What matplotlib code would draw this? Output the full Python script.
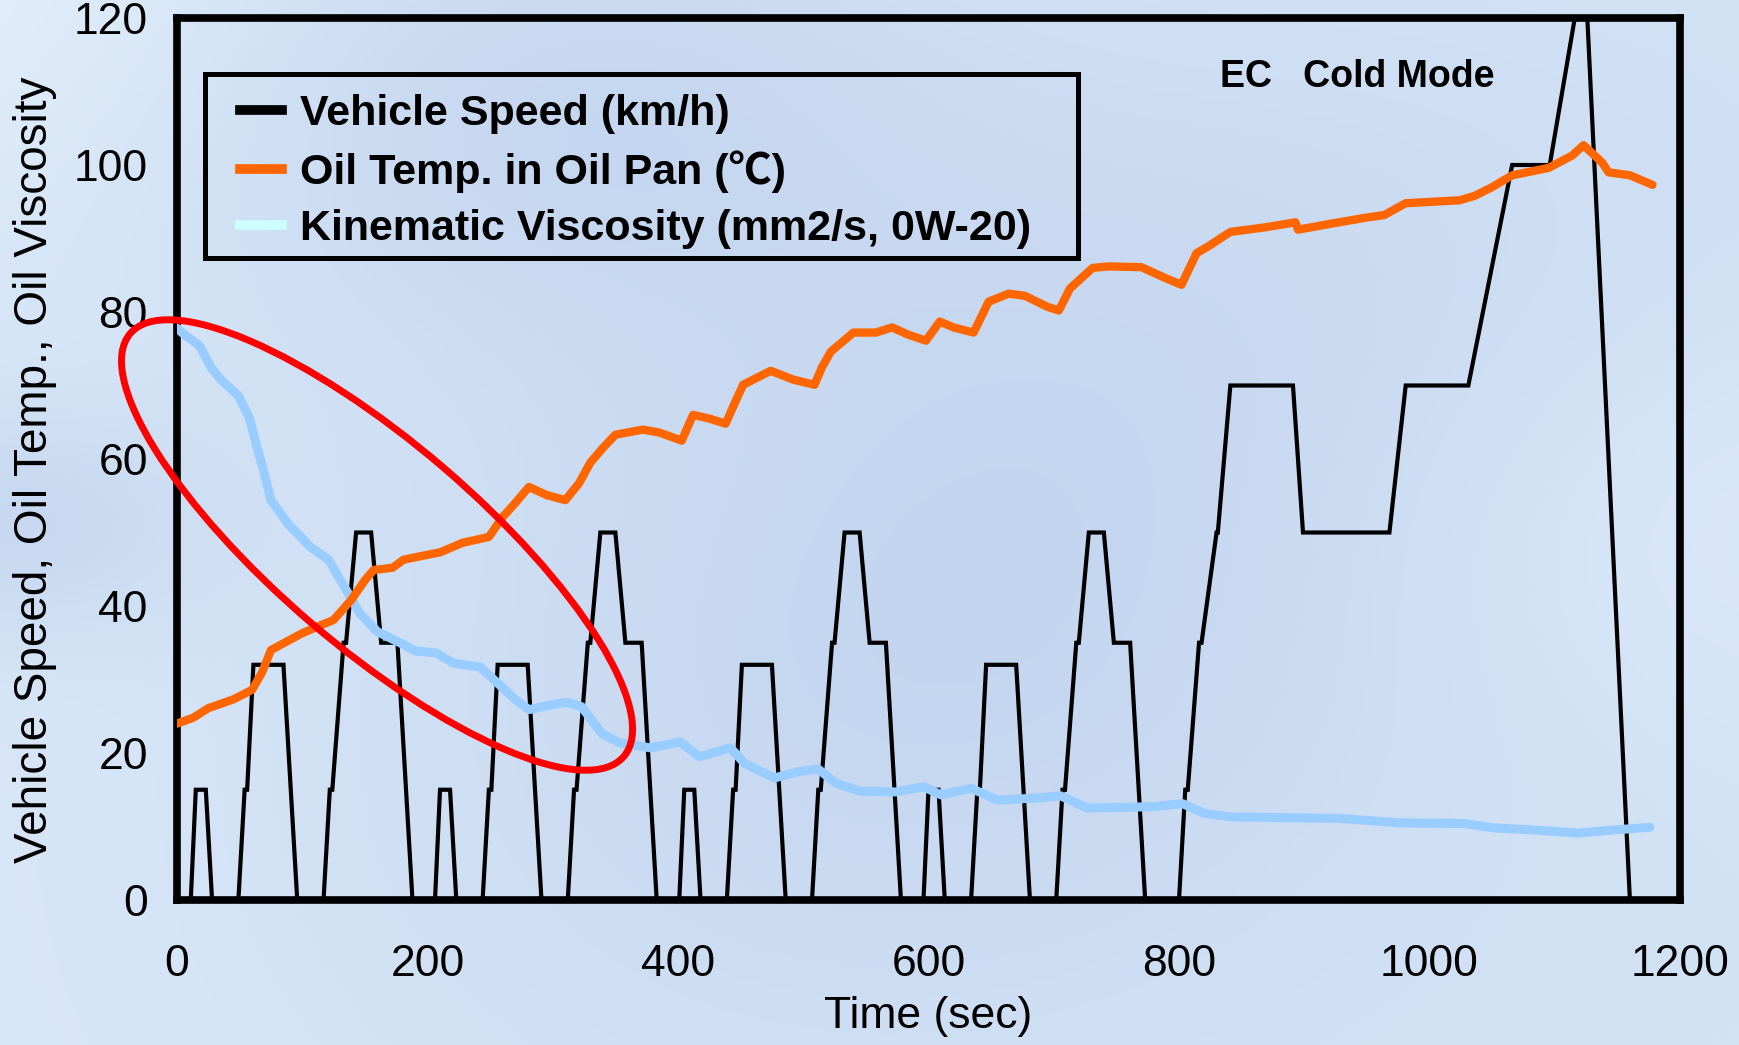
import numpy as np
import matplotlib
matplotlib.use("Agg")
import matplotlib.pyplot as plt
from matplotlib.lines import Line2D
from matplotlib.patches import Ellipse, Rectangle
from matplotlib.transforms import IdentityTransform

plt.rcParams['font.family'] = ['Liberation Sans', 'Noto Sans CJK JP', 'DejaVu Sans']

# ---------------- data ----------------
# Vehicle speed: one urban (ECE) sub-cycle, repeated 4 times, then extra-urban part
ece_t = [0, 11, 15, 23, 28, 49, 54, 56, 61, 85, 96, 117, 122, 124, 133, 135, 143,
         155, 163, 176, 188, 195]
ece_v = [0, 0, 15, 15, 0, 0, 15, 15, 32, 32, 0, 0, 15, 15, 35, 35, 50,
         50, 35, 35, 0, 0]
ece_starts = [0, 195, 390, 585]
eudc_start = 780
eudc_t = [0, 20, 25, 27, 36, 38, 50, 51, 61, 111, 119, 188, 201, 251, 286, 316,
          336, 346, 380, 400]
eudc_v = [0, 0, 15, 15, 35, 35, 50, 50, 70, 70, 50, 50, 70, 70, 100, 100,
          120, 120, 0, 0]

# Oil temperature in oil pan (deg C)
temp_t = [0, 13, 25, 45, 60, 68, 75, 88, 100, 115, 125, 139, 150, 157, 172, 181,
          195, 210, 228, 249, 260, 270, 281, 295, 310, 321, 330, 340, 350, 372,
          385, 403, 412, 425, 438, 445, 452, 474, 492, 509, 515, 522, 540, 558,
          571, 584, 598, 609, 620, 636, 648, 664, 677, 695, 704, 713, 731, 744,
          770, 788, 802, 807, 814, 824, 841, 868, 893, 895, 921, 948, 964, 981,
          1024, 1036, 1049, 1066, 1095, 1114, 1123, 1138, 1143, 1160, 1178]
temp_v = [24.0, 24.8, 26.1, 27.3, 28.6, 31.0, 34.0, 35.2, 36.3, 37.4, 38.1, 40.8,
          43.5, 44.9, 45.2, 46.3, 46.8, 47.3, 48.6, 49.4, 52.1, 54.0, 56.2, 55.1,
          54.4, 56.7, 59.5, 61.5, 63.3, 64.0, 63.6, 62.5, 66.0, 65.5, 64.8, 67.5,
          70.1, 72.0, 70.8, 70.1, 72.5, 74.6, 77.2, 77.2, 77.9, 76.9, 76.1, 78.7,
          77.9, 77.2, 81.4, 82.5, 82.2, 80.7, 80.2, 83.2, 86.0, 86.2, 86.1, 84.7,
          83.7, 85.5, 88.0, 89.0, 90.9, 91.5, 92.2, 91.2, 92.0, 92.8, 93.2, 94.8,
          95.2, 95.8, 96.9, 98.6, 99.6, 101.3, 102.7, 100.3, 99.0, 98.6, 97.3]

# Kinematic viscosity (mm2/s, 0W-20)
visc_t = [0, 4, 18, 27, 35, 49, 58, 64, 69, 75, 89, 96, 106, 121, 135, 146, 160,
          178, 190, 207, 221, 242, 256, 270, 281, 300, 311, 323, 339, 353, 378,
          402, 417, 442, 453, 477, 497, 512, 526, 545, 574, 596, 610, 634, 655,
          689, 705, 727, 779, 803, 820, 842, 928, 976, 1028, 1052, 1086, 1119,
          1138, 1176]
visc_v = [77.8, 77.2, 75.4, 72.5, 70.8, 68.6, 65.5, 61.5, 58.5, 54.4, 51.1, 49.9,
          48.1, 46.3, 42.2, 39.0, 36.5, 35.0, 33.9, 33.6, 32.2, 31.7, 29.5, 27.3,
          25.9, 26.6, 26.9, 26.3, 22.7, 21.4, 20.7, 21.5, 19.5, 20.7, 18.6, 16.6,
          17.5, 17.8, 15.9, 14.8, 14.7, 15.4, 14.3, 15.2, 13.6, 13.9, 14.2, 12.5,
          12.7, 13.1, 11.8, 11.3, 11.1, 10.5, 10.4, 9.8, 9.5, 9.1, 9.4, 9.9]

legend_labels = ["Vehicle Speed (km/h)", "Oil Temp. in Oil Pan (\u2103)",
                 "Kinematic Viscosity (mm2/s, 0W-20)"]
x_ticks = [0, 200, 400, 600, 800, 1000, 1200]
y_ticks = [0, 20, 40, 60, 80, 100, 120]

# assemble speed trace
speed_t, speed_v = [], []
for s in ece_starts:
    speed_t += [s + t for t in ece_t]
    speed_v += list(ece_v)
speed_t += [eudc_start + t for t in eudc_t]
speed_v += list(eudc_v)

# ---------------- figure ----------------
W, H = 1739, 1045
fig = plt.figure(figsize=(W / 100, H / 100), dpi=100)

# background: soft light-blue gradient
yy, xx = np.mgrid[0:1:300j, 0:1:500j]
base = np.array([0.89, 0.94, 0.985])
dark = np.array([0.77, 0.84, 0.94])
w = 0.35 + 0.2 * xx
for (bx, by, s, amp) in [(0.30, 0.10, 0.18, 0.6), (0.55, 0.55, 0.22, 0.45),
                         (0.0, 0.50, 0.08, 0.6), (0.75, 0.25, 0.2, 0.3),
                         (0.45, 0.85, 0.25, 0.3)]:
    w = w + amp * np.exp(-((xx - bx) ** 2 + (yy - by) ** 2) / (2 * s ** 2))
w = w - 0.35 * np.exp(-((xx - 0.0) ** 2 + (yy - 0.0) ** 2) / (2 * 0.15 ** 2))
w = w - 0.3 * np.exp(-((xx - 1.0) ** 2 + (yy - 0.5) ** 2) / (2 * 0.15 ** 2))
w = np.clip(w / w.max(), 0, 1)
img = base[None, None, :] * (1 - w[..., None]) + dark[None, None, :] * w[..., None]
bg = fig.add_axes([0, 0, 1, 1], zorder=-10)
bg.imshow(img, aspect='auto', extent=[0, 1, 0, 1], origin='upper')
bg.axis('off')

L, R, T, B = 177, 1680, 18, 900
ax = fig.add_axes([L / W, (H - B) / H, (R - L) / W, (B - T) / H])
ax.set_facecolor('none')

ax.plot(speed_t, speed_v, color='black', lw=3.0, zorder=3, solid_joinstyle='miter')
ax.plot(visc_t, visc_v, color='#99CCFF', lw=6.5, zorder=4, solid_capstyle='round')
ax.plot(temp_t, temp_v, color='#FF6600', lw=6.0, zorder=5, solid_capstyle='round')

ax.set_xlim(0, 1200)
ax.set_ylim(0, 120)
ax.set_xticks(x_ticks)
ax.set_yticks(y_ticks)
ax.tick_params(length=0, labelsize=32)
ax.tick_params(axis='x', pad=32)
ax.tick_params(axis='y', pad=21)
for sp in ax.spines.values():
    sp.set_linewidth(5.5)
    sp.set_color('black')

ax.set_xlabel("Time (sec)", fontsize=32)
ax.set_ylabel("Vehicle Speed, Oil Temp., Oil Viscosity", fontsize=33)
ax.xaxis.set_label_coords(0.5, -0.109)
ax.yaxis.set_label_coords(-0.080, 0.4875)

# legend (frame drawn separately)
handles = [Line2D([], [], color='black', lw=7),
           Line2D([], [], color='#FF6600', lw=7),
           Line2D([], [], color='#CCFFFF', lw=7)]
leg = ax.legend(handles, legend_labels, loc='upper left',
                bbox_to_anchor=((240 - L) / (R - L), (B - 94) / (B - T)),
                borderaxespad=0, borderpad=0, frameon=False,
                prop={'weight': 'bold', 'size': 31}, handlelength=0.97,
                handletextpad=0.42, labelspacing=0.38)
leg.set_zorder(10)
ax.add_patch(Rectangle(((205 - L) / (R - L), (B - 258) / (B - T)),
                       (1078 - 205) / (R - L), (258 - 74) / (B - T),
                       transform=ax.transAxes, fill=False, lw=3.6,
                       edgecolor='black', zorder=9, clip_on=False))

ax.text((1220 - L) / (R - L), (B - 87) / (B - T), "EC   Cold Mode",
        transform=ax.transAxes, fontsize=27, fontweight='bold',
        ha='left', va='baseline', zorder=10)

# red highlight ellipse (defined in display pixels around a data-space centre)
fig.canvas.draw()
cx, cy = ax.transData.transform((159.7, 48.3))
ell = Ellipse((cx, cy), width=2 * 325, height=2 * 102, angle=-40.6,
              transform=IdentityTransform(), fill=False, edgecolor='#FF0000',
              lw=5.0, zorder=20)
fig.add_artist(ell)

fig.savefig("out.png", dpi=100)
